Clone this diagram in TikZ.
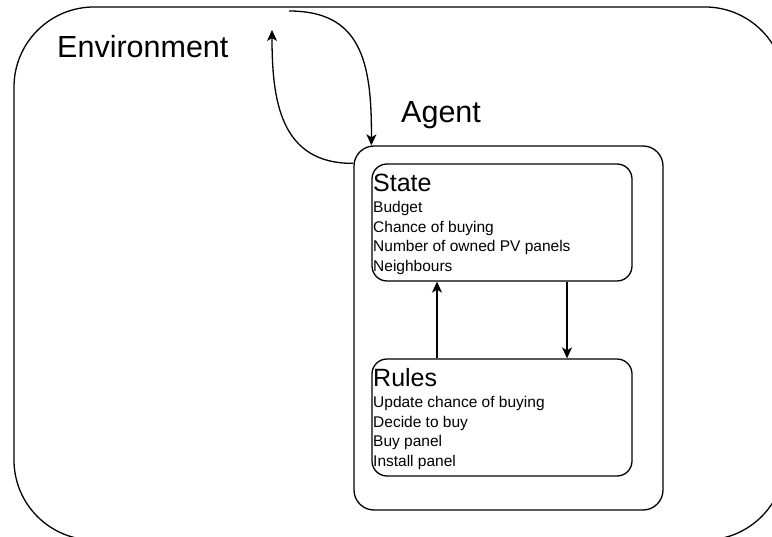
\documentclass[tikz,border=0pt]{standalone}
\usepackage{fontspec}
\setmainfont{Liberation Sans}
\usetikzlibrary{arrows.meta}
\begin{document}
\begin{tikzpicture}[x=1pt,y=-1pt,
  box/.style={draw, line width=1.3pt, inner sep=0pt, rounded corners=#1},
  arr/.style={draw, line width=1.3pt, -{Stealth[length=11pt,width=10pt,inset=3pt]}},
  title/.style={anchor=base west, inner sep=0pt, font=\fontsize{25}{25}\selectfont},
  item/.style={anchor=base west, inner sep=0pt, font=\fontsize{15.5}{15.5}\selectfont},
  big/.style={anchor=base west, inner sep=0pt, font=\fontsize{30.5}{30.5}\selectfont}]
\useasboundingbox (0,0) rectangle (772,537);
\fill[white] (0,0) rectangle (772,537);

% environment, agent and its two parts
\node[box=80pt, minimum width=771pt, minimum height=533pt] (env) at (399.5,273.5) {};
\node[box=20pt, minimum width=309pt, minimum height=364pt] (agent) at (508.5,328) {};
\node[box=15pt, minimum width=260pt, minimum height=117pt] (state) at (502,222.5) {};
\node[box=15pt, minimum width=260pt, minimum height=117pt] (rules) at (502,417.5) {};

% labels
\node[big] (envlabel) at (57,58) {Environment};
\node[big] (agentlabel) at (401,123) {Agent};

\node[title] (statetitle) at (373,192) {State};
\node[item] (s1) at (373,213) {Budget};
\node[item] (s2) at (373,232.5) {Chance of buying};
\node[item] (s3) at (373,252) {Number of owned PV panels};
\node[item] (s4) at (373,271.5) {Neighbours};

\node[title] (rulestitle) at (373,387) {Rules};
\node[item] (r1) at (373,408) {Update chance of buying};
\node[item] (r2) at (373,427.5) {Decide to buy};
\node[item] (r3) at (373,447) {Buy panel};
\node[item] (r4) at (373,466.5) {Install panel};

% connectors between state and rules
\coordinate (upx) at (437,0);
\coordinate (downx) at (567,0);
\draw[arr] (rules.north -| upx) -- (state.south -| upx);
\draw[arr] (state.south -| downx) -- (rules.north -| downx);

% exchange between agent and environment
\coordinate (envout) at (272,30);
\coordinate (envin) at (289,11);
\draw[arr] ([yshift=-18pt]agent.north west) .. controls (280,164) and (272,100) .. (envout);
\draw[arr] (envin) .. controls (360,11) and (372,60) .. ([xshift=18pt]agent.north west);
\end{tikzpicture}
\end{document}
